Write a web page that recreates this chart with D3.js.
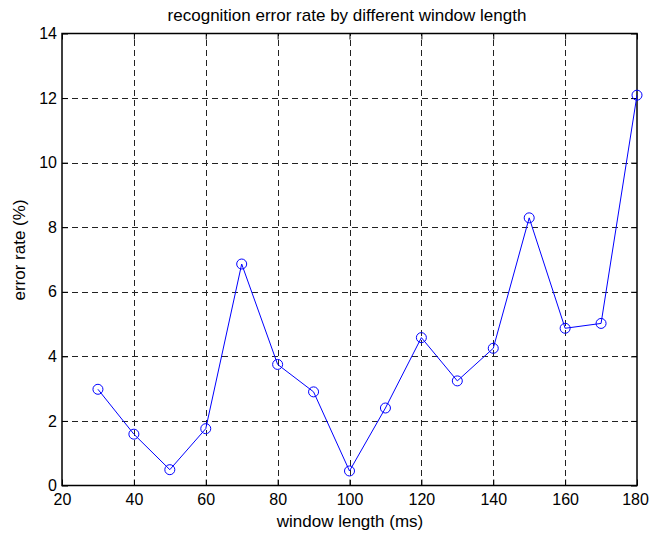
<!DOCTYPE html>
<html>
<head>
<meta charset="utf-8">
<script src="https://cdn.jsdelivr.net/npm/d3@7"></script>
<style>
  body { margin: 0; background: #fff; }
  svg text { font-family: "Liberation Sans", Arial, sans-serif; fill: #000; }
</style>
</head>
<body>
<svg id="chart" width="649" height="533"></svg>
<script>
// window length (ms) vs recognition error rate (%)
const windowLengths = [30, 40, 50, 60, 70, 80, 90, 100, 110, 120, 130, 140, 150, 160, 170, 180];
const errorRates = [2.98, 1.59, 0.49, 1.76, 6.86, 3.75, 2.9, 0.45, 2.4, 4.58, 3.24, 4.25, 8.29, 4.87, 5.02, 12.09];
const xTicks = [20, 40, 60, 80, 100, 120, 140, 160, 180];
const yTicks = [0, 2, 4, 6, 8, 10, 12, 14];

const margin = { left: 62, right: 12, top: 33.5, bottom: 47.5 };
const width = 649, height = 533;
const svg = d3.select("#chart");

const x = d3.scaleLinear().domain([20, 180]).range([margin.left, width - margin.right]);
const y = d3.scaleLinear().domain([0, 14]).range([height - margin.bottom, margin.top]);

const x0 = x.range()[0], x1 = x.range()[1];
const y0 = y.range()[0], y1 = y.range()[1];

// grid
const grid = svg.append("g").attr("stroke", "#222").attr("stroke-width", 1)
  .attr("stroke-dasharray", "6,4").attr("shape-rendering", "crispEdges");
grid.selectAll("line.vx").data(xTicks.slice(1, -1)).enter().append("line")
  .attr("x1", d => Math.round(x(d)) + 0.5).attr("x2", d => Math.round(x(d)) + 0.5)
  .attr("y1", y0).attr("y2", y1);
grid.selectAll("line.hy").data(yTicks.slice(1, -1)).enter().append("line")
  .attr("x1", x0).attr("x2", x1)
  .attr("y1", d => Math.round(y(d)) + 0.5).attr("y2", d => Math.round(y(d)) + 0.5);

// axes (ticks inward, MATLAB style)
const tk = 6;
const bottomAxis = d3.axisBottom(x).tickValues(xTicks).tickSize(-tk).tickPadding(8);
const topAxis = d3.axisTop(x).tickValues(xTicks).tickSize(-tk).tickFormat("");
const leftAxis = d3.axisLeft(y).tickValues(yTicks).tickSize(-tk).tickPadding(5);
const rightAxis = d3.axisRight(y).tickValues(yTicks).tickSize(-tk).tickFormat("");

function styleAxis(g) {
  g.select(".domain").remove();
  g.selectAll("line").attr("stroke", "#000");
  g.selectAll("text").attr("font-size", 16).attr("fill", "#000");
}
const gx = svg.append("g").attr("transform", `translate(0,${y0})`).call(bottomAxis).call(styleAxis);
// keep the last label inside the window
gx.selectAll(".tick text").filter(d => d === 180).attr("dx", -2);
svg.append("g").attr("transform", `translate(0,${y1})`).call(topAxis).call(styleAxis);
svg.append("g").attr("transform", `translate(${x0},0)`).call(leftAxis).call(styleAxis);
svg.append("g").attr("transform", `translate(${x1},0)`).call(rightAxis).call(styleAxis);

// box
svg.append("rect").attr("x", x0).attr("y", y1).attr("width", x1 - x0).attr("height", y0 - y1)
  .attr("fill", "none").attr("stroke", "#000").attr("stroke-width", 1.5);

// series
const pts = windowLengths.map((w, i) => [w, errorRates[i]]);
svg.append("path").datum(pts)
  .attr("fill", "none").attr("stroke", "#0000ff").attr("stroke-width", 1)
  .attr("d", d3.line().x(d => x(d[0])).y(d => y(d[1])));
svg.selectAll("circle.pt").data(pts).enter().append("circle")
  .attr("cx", d => x(d[0])).attr("cy", d => y(d[1])).attr("r", 5)
  .attr("fill", "none").attr("stroke", "#0000ff").attr("stroke-width", 1);

// labels
svg.append("text").attr("x", 347).attr("y", 21).attr("text-anchor", "middle")
  .attr("font-size", 17).text("recognition error rate by different window length");
svg.append("text").attr("x", 350).attr("y", 527).attr("text-anchor", "middle")
  .attr("font-size", 17).text("window length (ms)");
svg.append("text").attr("transform", "translate(25,250) rotate(-90)")
  .attr("text-anchor", "middle").attr("font-size", 17).text("error rate (%)");
</script>
</body>
</html>
